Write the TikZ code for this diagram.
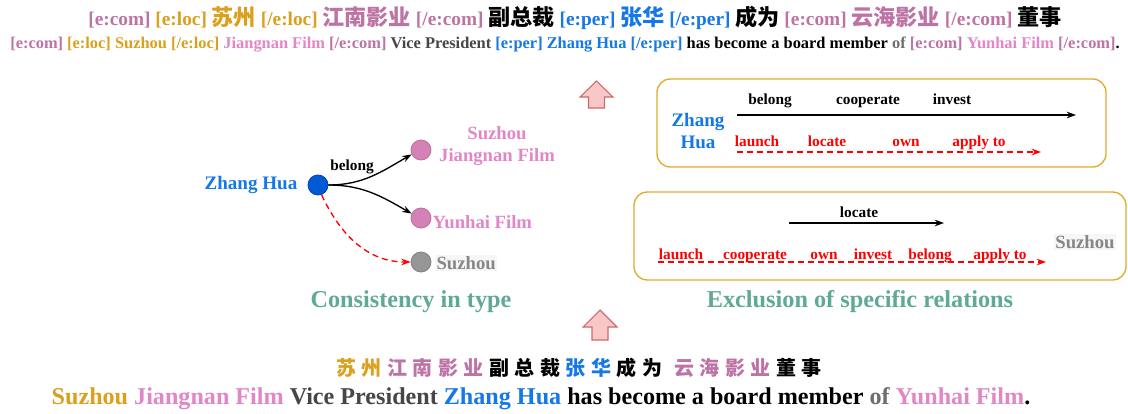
\documentclass[tikz,border=0pt]{standalone}
\usepackage{fontspec}
\setmainfont{Liberation Serif}
\newfontfamily\cjk{Noto Sans CJK SC}
\usetikzlibrary{arrows.meta}
\definecolor{gold}{RGB}{218,160,30}
\definecolor{mauve}{RGB}{190,115,165}
\definecolor{epink}{RGB}{225,135,200}
\definecolor{eblue}{RGB}{20,120,230}
\definecolor{teal2}{RGB}{95,170,150}
\definecolor{dgray}{RGB}{70,70,70}
\definecolor{mgray}{RGB}{110,110,110}
\definecolor{lgray}{RGB}{135,135,135}
\definecolor{boxc}{RGB}{225,172,45}
\definecolor{arrfill}{RGB}{248,200,200}
\definecolor{arrdraw}{RGB}{210,105,105}
\newcommand{\cjkA}[1]{{\cjk\bfseries\fontsize{16.6}{19}\selectfont #1}}
\newcommand{\ks}{\kern4.1pt}
\begin{document}
\begin{tikzpicture}[x=0.75pt,y=-0.75pt,font=\bfseries,
  dot/.style={circle,minimum size=15pt,inner sep=0pt,line width=0.6pt},
  bluedot/.style={dot,fill={rgb,255:red,0;green,90;blue,210},draw={rgb,255:red,0;green,60;blue,200}},
  pinkdot/.style={dot,fill={rgb,255:red,210;green,130;blue,180},draw={rgb,255:red,190;green,110;blue,160}},
  graydot/.style={dot,fill={rgb,255:red,150;green,150;blue,150},draw={rgb,255:red,130;green,130;blue,130}},
  relbox/.style={draw=boxc,line width=1pt,rounded corners=10pt,minimum height=66pt},
  rel/.style={font=\bfseries\fontsize{11.5}{13}\selectfont,inner sep=1pt,text height=8pt,text depth=2.5pt},
  solidarr/.style={line width=1pt,-{Stealth[length=7pt,width=5pt]}},
  dasharr/.style={red,line width=1pt,dash pattern=on 4.5pt off 3pt,-{Stealth[length=7pt,width=5pt]}},
  title/.style={text=teal2,font=\bfseries\fontsize{18.2}{21}\selectfont},
  uparr/.style={fill=arrfill,draw=arrdraw,line width=0.8pt}]
\useasboundingbox (0,0) rectangle (1128,414);
\fill[white] (0,0) rectangle (1128,414);

% top lines
\node (t1) at (575,18) {\fontsize{14.5}{17}\selectfont
  \textcolor{mauve}{[e:com]} \textcolor{gold}{[e:loc] \cjkA{苏州} [/e:loc]}
  \textcolor{mauve}{\cjkA{江南影业} [/e:com]} \cjkA{副总裁}
  \textcolor{eblue}{[e:per] \cjkA{张华} [/e:per]} \cjkA{成为}
  \textcolor{mauve}{[e:com] \cjkA{云海影业} [/e:com]} \cjkA{董事}};
\node (t2) at (565,45) {\fontsize{12.3}{14}\selectfont
  \textcolor{mauve}{[e:com]} \textcolor{gold}{[e:loc] Suzhou [/e:loc]}
  \textcolor{epink}{Jiangnan Film} \textcolor{mauve}{[/e:com]}
  \textcolor{dgray}{Vice President} \textcolor{eblue}{[e:per] Zhang Hua [/e:per]}
  has become a board member \textcolor{mgray}{of}
  \textcolor{mauve}{[e:com]} \textcolor{epink}{Yunhai Film} \textcolor{mauve}{[/e:com]}.};

% up arrows
\draw[uparr] (596.5,81) -- (613,97) -- (604.5,97) -- (604.5,108) -- (588.5,108) -- (588.5,97) -- (580,97) -- cycle;
\draw[uparr] (600,310) -- (617,327) -- (608,327) -- (608,340) -- (592,340) -- (592,327) -- (583,327) -- cycle;

% left diagram
\node[bluedot] (zh) at (318,185) {};
\node[anchor=east,text=eblue,font=\bfseries\fontsize{14.3}{17}\selectfont] (zhl) at (302,185) {Zhang Hua};
\node[pinkdot] (sj) at (421,150) {};
\node[pinkdot] (yh) at (421,218) {};
\node[graydot] (sz) at (421,262) {};
\node[align=center,text=epink,font=\bfseries\fontsize{14}{16.5}\selectfont] (sjl) at (497,146) {Suzhou\\Jiangnan Film};
\node[anchor=west,text=epink,font=\bfseries\fontsize{14}{16.5}\selectfont,inner sep=1pt] (yhl) at (431,222) {Yunhai Film};
\node[anchor=west,text=lgray,fill=gray!7,font=\bfseries\fontsize{14}{16.5}\selectfont,inner sep=1pt] (szl) at (435,263) {Suzhou};
\draw[solidarr] (zh.east) to[out=0,in=210] (sj.205);
\draw[solidarr] (zh.east) to[out=0,in=150] (yh.155);
\draw[dasharr] (zh.-70) to[out=-65,in=180] (sz.west);
\node[rel] (bel) at (352,167) {belong};
\node[title] (ct) at (411,302) {Consistency in type};

% right top box
\node[relbox,minimum width=336.75pt] (b1) at (881.5,123) {};
\node[align=center,text=eblue,font=\bfseries\fontsize{14.3}{17}\selectfont] (zh2) at (698,131) {Zhang\\Hua};
\coordinate (a1s) at (737,115);
\coordinate (a1e) at (1076,115);
\draw[solidarr] (a1s) -- (a1e);
\node[rel] (r1) at (770,101) {belong};
\node[rel] (r2) at (868,101) {cooperate};
\node[rel] (r3) at (952,101) {invest};
\coordinate (d1s) at (737,152);
\coordinate (d1e) at (1041,152);
\draw[dasharr] (d1s) -- (d1e);
\node[rel,text=red] (q1) at (757,143) {launch};
\node[rel,text=red] (q2) at (827,143) {locate};
\node[rel,text=red] (q3) at (906,143) {own};
\node[rel,text=red] (q4) at (979,143) {apply to};

% right bottom box
\node[relbox,minimum width=369pt] (b2) at (880,236) {};
\coordinate (a2s) at (789,223);
\coordinate (a2e) at (944,223);
\draw[solidarr] (a2s) -- (a2e);
\node[rel] (s1) at (859,214) {locate};
\coordinate (d2s) at (658,262);
\coordinate (d2e) at (1046,262);
\draw[dasharr] (d2s) -- (d2e);
\node[rel,text=red] (p1) at (681,256) {launch};
\node[rel,text=red] (p2) at (755,256) {cooperate};
\node[rel,text=red] (p3) at (824,256) {own};
\node[rel,text=red] (p4) at (873,256) {invest};
\node[rel,text=red] (p5) at (930,256) {belong};
\node[rel,text=red] (p6) at (1000,256) {apply to};
\node[text=lgray,fill=gray!7,font=\bfseries\fontsize{14}{16.5}\selectfont,inner sep=1pt] (sz2) at (1085,242) {Suzhou};
\node[title] (et) at (860,302) {Exclusion of specific relations};

% bottom lines
\node (c1) at (579,368) {\cjk\bfseries\fontsize{15}{18}\selectfont
  \textcolor{gold}{苏\ks 州}\ks\textcolor{mauve}{江\ks 南\ks 影\ks 业}\ks 副\ks 总\ks 裁\ks\textcolor{eblue}{张\ks 华}\ks 成\ks 为\ks\kern5pt\textcolor{mauve}{云\ks 海\ks 影\ks 业}\ks 董\ks 事};
\node (e1) at (541,399) {\fontsize{18.1}{21}\selectfont
  \textcolor{gold}{Suzhou} \textcolor{epink}{Jiangnan Film} \textcolor{dgray}{Vice President}
  \textcolor{eblue}{Zhang Hua} has become a board member \textcolor{mgray}{of}
  \textcolor{epink}{Yunhai Film}.};
\end{tikzpicture}
\end{document}
